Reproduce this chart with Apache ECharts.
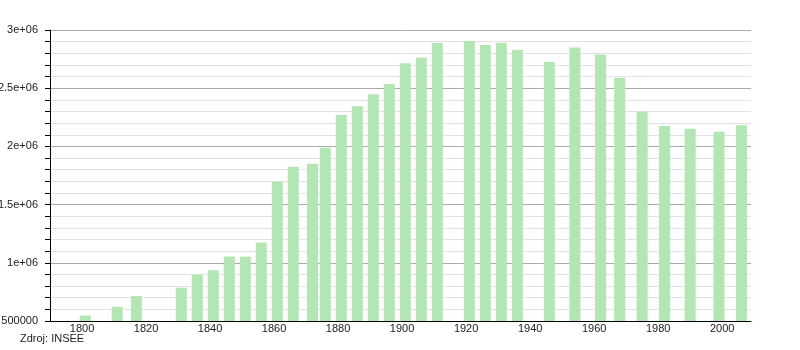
<!DOCTYPE html>
<html><head><meta charset="utf-8">
<script src="https://cdn.jsdelivr.net/npm/echarts@6/dist/echarts.min.js"></script>
<style>html,body{margin:0;padding:0;background:#fff}#c{width:800px;height:350px}</style>
</head><body><div id="c"></div>
<script>
const years = [1801,1811,1817,1831,1836,1841,1846,1851,1856,1861,1866,1872,1876,1881,1886,1891,1896,1901,1906,1911,1921,1926,1931,1936,1946,1954,1962,1968,1975,1982,1990,1999,2006];
const population = [546856,622636,713966,785862,899313,936261,1053897,1053262,1174346,1696141,1825274,1851792,1988806,2269023,2344550,2447957,2536834,2714068,2763393,2888110,2906472,2871429,2891020,2829746,2725374,2850189,2790091,2590771,2299830,2176243,2152423,2125246,2181371];
const yTickLabels = {500000:'500000',1000000:'1e+06',1500000:'1.5e+06',2000000:'2e+06',2500000:'2.5e+06',3000000:'3e+06'};
const sourceText = 'Zdroj: INSEE';

const chart = echarts.init(document.getElementById('c'), null, {renderer:'canvas'});
const font = '"Liberation Sans", Arial, sans-serif';
chart.setOption({
  animation:false,
  backgroundColor:'#fff',
  grid:{left:50, right:49, top:30, bottom:29, containLabel:false, outerBoundsMode:'none'},
  graphic:[{type:'text', left:20, top:333, style:{text:sourceText, fontSize:11, fontFamily:font, fill:'#222'}}],
  xAxis:{
    type:'value', min:1790, max:2009, interval:10,
    axisLine:{show:true, lineStyle:{color:'#000', width:1}},
    axisTick:{show:false},
    splitLine:{show:false},
    axisLabel:{fontSize:11, fontFamily:font, color:'#222', margin:2, showMinLabel:true, showMaxLabel:false,
      formatter:v => (v % 20 === 0 ? String(v) : '')}
  },
  yAxis:{
    type:'value', min:500000, max:3000000, interval:100000,
    axisLine:{show:true, lineStyle:{color:'#000', width:1}},
    axisTick:{show:true, length:5, lineStyle:{color:'#000'}},
    splitLine:{show:true, lineStyle:{color:['#aaaaaa','#e2e2e2','#e2e2e2','#e2e2e2','#e2e2e2'], width:1}},
    axisLabel:{fontSize:11, fontFamily:font, color:'#222', margin:12,
      formatter:v => (yTickLabels[v] || '')}
  },
  series:[{
    type:'bar',
    data: years.map((y,i)=>[y, population[i]]),
    barWidth:11,
    itemStyle:{color:'#b3e6b3'}
  }]
});
</script></body></html>
